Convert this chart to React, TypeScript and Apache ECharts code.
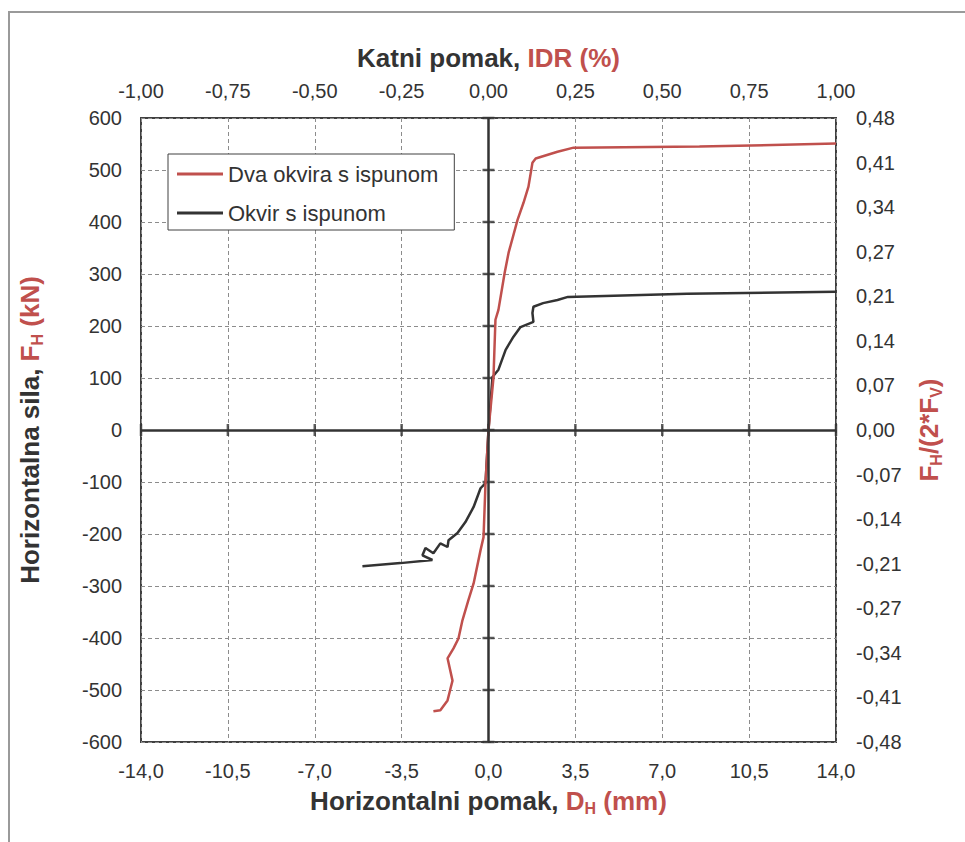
import React, { useEffect, useRef } from "react";
import * as echarts from "echarts";

const xTicks = [-14, -10.5, -7, -3.5, 0, 3.5, 7, 10.5, 14];
const bottomLabels = ["-14,0", "-10,5", "-7,0", "-3,5", "0,0", "3,5", "7,0", "10,5", "14,0"];
const topLabels = ["-1,00", "-0,75", "-0,50", "-0,25", "0,00", "0,25", "0,50", "0,75", "1,00"];
const yTicks = [-600, -500, -400, -300, -200, -100, 0, 100, 200, 300, 400, 500, 600];
const leftLabels = ["-600", "-500", "-400", "-300", "-200", "-100", "0", "100", "200", "300", "400", "500", "600"];
const rightLabels = ["-0,48", "-0,41", "-0,34", "-0,27", "-0,21", "-0,14", "-0,07", "0,00", "0,07", "0,14", "0,21", "0,27", "0,34", "0,41", "0,48"];

const redName = "Dva okvira s ispunom";
const blackName = "Okvir s ispunom";

const redX = [-2.22, -1.94, -1.65, -1.53, -1.45, -1.65, -1.41, -1.21, -1.05, -0.81, -0.6, -0.32, -0.2, -0.12, 0, 0.2, 0.28, 0.4, 0.65, 0.81, 1.17, 1.41, 1.61, 1.77, 1.9, 2.78, 3.43, 8.5, 14.0];
const redY = [-541, -539, -520, -497, -482, -439, -420, -401, -366, -327, -295, -231, -206, -102, 0, 100, 212, 231, 302, 341, 404, 437, 468, 514, 522, 535, 543, 545, 551];

const blackX = [-5.08, -3.55, -2.26, -2.66, -2.54, -2.22, -1.94, -1.65, -1.61, -1.25, -0.93, -0.6, -0.32, -0.12, 0, 0.16, 0.4, 0.69, 1.0, 1.29, 1.81, 1.77, 1.81, 2.2, 2.78, 3.2, 8.0, 14.0];
const blackY = [-262, -256, -250, -241, -227, -237, -218, -225, -212, -198, -177, -148, -112, -102, 0, 102, 116, 154, 179, 198, 208, 225, 237, 244, 250, 256, 262, 266];

const RED = "#C0504D";
const DARK = "#333333";
const FONT = "'Liberation Sans', Arial, sans-serif";

const pick = (ticks: number[], labels: string[]) => (v: number) => {
  let best = 0;
  for (let i = 0; i < ticks.length; i++) if (Math.abs(ticks[i] - v) < Math.abs(ticks[best] - v)) best = i;
  return Math.abs(ticks[best] - v) < 1e-6 ? labels[best] : "";
};

export default function App() {
  const ref = useRef<HTMLDivElement>(null);
  useEffect(() => {
    if (!ref.current) return;
    const chart = echarts.init(ref.current, undefined, { renderer: "svg" });
    const split = { show: true, lineStyle: { color: "#8c8c8c", type: [4, 3] as any, width: 1 } };
    const rightIdx = rightLabels.map((_, i) => i - 7);
    const TS = 26;
    const SS = 16;
    chart.setOption({
      animation: false,
      backgroundColor: "#ffffff",
      textStyle: { fontFamily: FONT },
      graphic: [
        { type: "rect", z: -10, shape: { x: 9, y: 12, width: 1000, height: 900 }, style: { fill: "none", stroke: "#9a9a9a", lineWidth: 2 } },
      ],
      grid: { left: 141, right: 129, top: 118, bottom: 100, show: true, borderColor: "#404040", borderWidth: 2, backgroundColor: "transparent" },
      legend: {
        left: 168, top: 154, orient: "vertical",
        data: [redName, blackName],
        icon: "rect", itemWidth: 46, itemHeight: 3, itemGap: 15,
        padding: [8, 16, 5, 9],
        backgroundColor: "#ffffff", borderColor: "#404040", borderWidth: 1,
        textStyle: { fontFamily: FONT, fontSize: 22, lineHeight: 24, color: DARK },
      },
      xAxis: [
        {
          type: "value", position: "bottom", min: -14, max: 14, interval: 3.5,
          axisLine: { show: false }, axisTick: { show: false },
          axisLabel: { formatter: pick(xTicks, bottomLabels), fontSize: 20, color: DARK, margin: 19 },
          splitLine: split,
          name: "{a|Horizontalni pomak, }{r|D}{s|H}{r| (mm)}",
          nameLocation: "middle", nameGap: 44,
          nameTextStyle: {
            rich: {
              a: { fontSize: TS, fontWeight: "bold", color: DARK, lineHeight: 30 },
              r: { fontSize: TS, fontWeight: "bold", color: RED, lineHeight: 30 },
              s: { fontSize: SS, fontWeight: "bold", color: RED, lineHeight: 16, verticalAlign: "bottom" },
            },
          },
        },
        {
          type: "value", position: "top", min: -14, max: 14, interval: 3.5,
          axisLine: { show: false }, axisTick: { show: false },
          axisLabel: { formatter: pick(xTicks, topLabels), fontSize: 20, color: DARK, margin: 17 },
          splitLine: { show: false },
          name: "{a|Katni pomak, }{r|IDR (%)}",
          nameLocation: "middle", nameGap: 47,
          nameTextStyle: {
            rich: {
              a: { fontSize: TS, fontWeight: "bold", color: DARK },
              r: { fontSize: TS, fontWeight: "bold", color: RED },
            },
          },
        },
      ],
      yAxis: [
        {
          type: "value", position: "left", min: -600, max: 600, interval: 100,
          axisLine: { show: false }, axisTick: { show: false },
          axisLabel: { formatter: pick(yTicks, leftLabels), fontSize: 20, color: DARK, margin: 19 },
          splitLine: split,
          name: "{a|Horizontalna sila, }{r|F}{s|H}{r| (kN)}",
          nameLocation: "middle", nameGap: 96, nameRotate: 90,
          nameTextStyle: {
            rich: {
              a: { fontSize: TS, fontWeight: "bold", color: DARK, lineHeight: 30 },
              r: { fontSize: TS, fontWeight: "bold", color: RED, lineHeight: 30 },
              s: { fontSize: SS, fontWeight: "bold", color: RED, lineHeight: 16, verticalAlign: "bottom" },
            },
          },
        },
        {
          type: "value", position: "right", min: -7, max: 7, interval: 1,
          axisLine: { show: false }, axisTick: { show: false },
          axisLabel: { formatter: pick(rightIdx, rightLabels), fontSize: 20, color: DARK, margin: 20 },
          splitLine: { show: false },
          name: "{r|F}{s|H}{r|/(2*F}{s|V}{r|)}",
          nameLocation: "middle", nameGap: 78, nameRotate: 90,
          nameTextStyle: {
            rich: {
              r: { fontSize: TS, fontWeight: "bold", color: RED, lineHeight: 30 },
              s: { fontSize: SS, fontWeight: "bold", color: RED, lineHeight: 16, verticalAlign: "bottom" },
            },
          },
        },
      ],
      series: [
        {
          name: "xticks", type: "scatter", xAxisIndex: 0, yAxisIndex: 0, z: 2, silent: true,
          symbol: "rect", symbolSize: [2.5, 12], itemStyle: { color: DARK },
          data: xTicks.map((x) => [x, 0]),
          markLine: {
            silent: true, symbol: "none", label: { show: false },
            lineStyle: { color: DARK, width: 2.5, type: "solid" },
            data: [{ xAxis: 0 }, { yAxis: 0 }],
          },
        },
        {
          name: "yticks", type: "scatter", xAxisIndex: 0, yAxisIndex: 0, z: 2, silent: true,
          symbol: "rect", symbolSize: [12, 2.5], itemStyle: { color: DARK },
          data: yTicks.map((y) => [0, y]),
        },
        {
          name: redName, type: "line", xAxisIndex: 0, yAxisIndex: 0, z: 4, showSymbol: false,
          lineStyle: { color: RED, width: 2.5 }, itemStyle: { color: RED },
          data: redX.map((x, i) => [x, redY[i]]),
        },
        {
          name: blackName, type: "line", xAxisIndex: 0, yAxisIndex: 0, z: 3, showSymbol: false,
          lineStyle: { color: DARK, width: 2.5 }, itemStyle: { color: DARK },
          data: blackX.map((x, i) => [x, blackY[i]]),
        },
      ],
    });
    return () => chart.dispose();
  }, []);
  return <div ref={ref} style={{ position: "fixed", left: 0, top: 0, width: 965, height: 842 }} />;
}
